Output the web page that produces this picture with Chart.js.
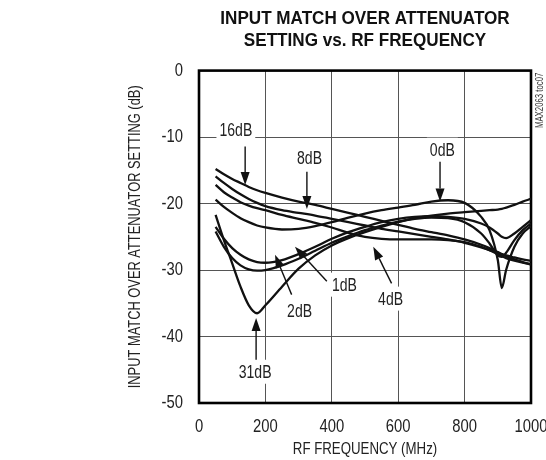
<!DOCTYPE html>
<html>
<head>
<meta charset="utf-8">
<script src="https://cdn.jsdelivr.net/npm/chart.js@4.4.1/dist/chart.umd.min.js"></script>
<style>
  html, body { margin: 0; padding: 0; background: #fff; }
  #wrap { width: 546px; height: 460px; position: relative; }
</style>
</head>
<body>
<div id="wrap"><canvas id="c" width="546" height="460"></canvas></div>
<script>
// ---- data ----
const freqMHz = [50,75,100,125,150,175,200,250,300,350,400,450,500,550,600,650,700,750,800,850,875,900,912,925,950,975,1000];
const match0dB  = [-19.4,-20.5,-21.4,-22.2,-22.8,-23.3,-23.6,-23.9,-23.8,-23.4,-22.8,-22.1,-21.5,-21.0,-20.6,-20.2,-19.7,-19.5,-19.9,-22.0,-24.0,-28.5,-32.7,-30.0,-26.5,-24.5,-23.4];
const match1dB  = [-23.5,-25.3,-26.7,-27.7,-28.4,-28.8,-28.9,-28.5,-27.6,-26.5,-25.3,-24.3,-23.5,-22.8,-22.3,-22.0,-21.9,-22.0,-22.3,-23.0,-23.6,-24.5,-25.0,-25.2,-24.5,-23.5,-22.5];
const match2dB  = [-24.2,-26.5,-28.2,-29.3,-29.9,-30.1,-30.0,-29.3,-28.3,-27.1,-25.9,-24.9,-24.0,-23.3,-22.7,-22.3,-22.1,-22.2,-22.8,-24.5,-26.0,-27.8,-28.0,-27.4,-25.5,-24.0,-23.0];
const match4dB  = [-17.2,-18.3,-19.1,-19.8,-20.3,-20.7,-21.0,-21.7,-22.3,-22.9,-23.6,-24.4,-25.0,-25.3,-25.4,-25.4,-25.4,-25.5,-25.8,-26.5,-27.0,-27.6,-27.9,-28.2,-28.6,-28.9,-29.1];
const match8dB  = [-15.9,-16.9,-17.8,-18.6,-19.3,-19.9,-20.4,-21.0,-21.4,-21.8,-22.3,-22.8,-23.3,-23.8,-24.2,-24.6,-25.0,-25.4,-25.9,-26.6,-27.0,-27.4,-27.6,-27.8,-28.1,-28.4,-28.6];
const match16dB = [-14.8,-15.6,-16.3,-16.9,-17.5,-18.0,-18.4,-19.1,-19.7,-20.2,-20.8,-21.4,-22.0,-22.6,-23.2,-23.8,-24.3,-24.8,-25.4,-26.2,-26.7,-27.3,-27.6,-27.9,-28.4,-28.8,-29.2];
const match31dB = [-21.7,-25.5,-29.0,-32.5,-35.3,-36.5,-35.3,-32.5,-29.8,-27.8,-26.3,-25.2,-24.3,-23.5,-22.8,-22.2,-21.8,-21.5,-21.3,-21.1,-21.0,-20.9,-20.8,-20.6,-20.2,-19.7,-19.3];
const seriesNames = ['0dB','1dB','2dB','4dB','8dB','16dB','31dB'];
const seriesValues = [match0dB, match1dB, match2dB, match4dB, match8dB, match16dB, match31dB];

// axis ticks
const xTicks = [0,200,400,600,800,1000];
const yTicks = [0,-10,-20,-30,-40,-50];

// annotation labels (data units) and their arrows
const noteText     = ['16dB','8dB','0dB','31dB','2dB','1dB','4dB'];
const noteFreq     = [111, 333, 733, 169, 303, 438, 577];
const noteDb       = [-9.0, -13.1, -11.9, -45.3, -36.2, -32.2, -34.3];
const arrowFromF   = [139, 325, 726, 172, 279, 385, 580];
const arrowFromDb  = [-11.4, -15.2, -13.7, -43.5, -33.7, -31.7, -32.0];
const arrowToF     = [139, 325, 726, 172, 229, 289, 525];
const arrowToDb    = [-17.2, -20.8, -19.7, -37.2, -27.7, -26.5, -26.5];

const FONT = "'Liberation Sans', Arial, sans-serif";

// condensed look: squeeze text horizontally (still drawn as real text)
(function () {
  const P = CanvasRenderingContext2D.prototype;
  const origFill = P.fillText, origMeasure = P.measureText;
  const squeeze = ctx => (/bold/.test(ctx.font) ? 0.9 : 0.78);
  P.fillText = function (t, x, y, mw) {
    const k = squeeze(this);
    this.save();
    this.translate(x, y);
    this.scale(k, 1);
    origFill.call(this, t, 0, 0);
    this.restore();
  };
  P.measureText = function (t) {
    const m = origMeasure.call(this, t);
    const k = squeeze(this);
    return {
      width: m.width * k,
      actualBoundingBoxAscent: m.actualBoundingBoxAscent,
      actualBoundingBoxDescent: m.actualBoundingBoxDescent,
      actualBoundingBoxLeft: m.actualBoundingBoxLeft * k,
      actualBoundingBoxRight: m.actualBoundingBoxRight * k
    };
  };
})();

const datasets = seriesNames.map((n, i) => ({
  label: n,
  data: freqMHz.map((f, k) => ({ x: f, y: seriesValues[i][k] })),
  borderColor: '#111',
  borderWidth: 2.3,
  pointRadius: 0,
  fill: false,
  cubicInterpolationMode: 'monotone'
}));

const frameAndNotes = {
  id: 'frameAndNotes',
  beforeDatasetsDraw(chart) {
    const { ctx, chartArea: a } = chart;
    ctx.save();
    ctx.strokeStyle = '#000';
    ctx.lineWidth = 2.6;
    ctx.strokeRect(a.left, a.top, a.right - a.left, a.bottom - a.top);
    ctx.restore();
  },
  afterDatasetsDraw(chart) {
    const { ctx } = chart;
    const xs = chart.scales.x, ys = chart.scales.y;
    ctx.save();
    ctx.font = "18px " + FONT;
    ctx.textAlign = 'center';
    ctx.textBaseline = 'middle';
    noteText.forEach((t, i) => {
      const px = xs.getPixelForValue(noteFreq[i]);
      const py = ys.getPixelForValue(noteDb[i]);
      const w = ctx.measureText(t).width;
      ctx.fillStyle = '#fff';
      ctx.fillRect(px - w / 2 - 3, py - 12, w + 6, 24);
      ctx.fillStyle = '#222';
      ctx.fillText(t, px, py + 1);
      // arrow
      const x0 = xs.getPixelForValue(arrowFromF[i]), y0 = ys.getPixelForValue(arrowFromDb[i]);
      const x1 = xs.getPixelForValue(arrowToF[i]),   y1 = ys.getPixelForValue(arrowToDb[i]);
      const ang = Math.atan2(y1 - y0, x1 - x0);
      const L = 13, H = 4.5;
      const bx = x1 - L * Math.cos(ang), by = y1 - L * Math.sin(ang);
      ctx.strokeStyle = '#111';
      ctx.lineWidth = 1.4;
      ctx.beginPath(); ctx.moveTo(x0, y0); ctx.lineTo(bx, by); ctx.stroke();
      ctx.fillStyle = '#111';
      ctx.beginPath();
      ctx.moveTo(x1, y1);
      ctx.lineTo(bx + H * Math.sin(ang), by - H * Math.cos(ang));
      ctx.lineTo(bx - H * Math.sin(ang), by + H * Math.cos(ang));
      ctx.closePath(); ctx.fill();
    });
    // part number
    const a = chart.chartArea;
    ctx.translate(a.right + 9, a.top + 2);
    ctx.rotate(-Math.PI / 2);
    ctx.font = "10px " + FONT;
    ctx.textAlign = 'right';
    ctx.fillStyle = '#333';
    ctx.fillText('MAX2063 toc07', 0, 0);
    ctx.restore();
  }
};

new Chart(document.getElementById('c'), {
  type: 'line',
  data: { datasets },
  plugins: [frameAndNotes],
  options: {
    responsive: false,
    animation: false,
    layout: { padding: { left: 0, right: 0, top: 0, bottom: 0 } },
    plugins: {
      legend: { display: false },
      tooltip: { enabled: false },
      title: {
        display: true,
        fullSize: false,
        text: ['INPUT MATCH OVER ATTENUATOR', 'SETTING vs. RF FREQUENCY'],
        color: '#111',
        font: { family: FONT, size: 19, weight: 'bold', lineHeight: 1.2 },
        padding: { top: 7, bottom: 18 }
      }
    },
    scales: {
      x: {
        type: 'linear', min: 0, max: 1000,
        afterBuildTicks: s => { s.ticks = xTicks.map(v => ({ value: v })); },
        afterFit: s => { s.height = 57; s.paddingRight = 15; s.paddingLeft = 0; },
        grid: { color: '#555', lineWidth: 1, drawTicks: false },
        border: { display: false },
        ticks: { color: '#222', padding: 12, maxRotation: 0, font: { family: FONT, size: 19 }, callback: v => String(v) },
        title: { display: true, text: 'RF FREQUENCY (MHz)', color: '#222', padding: { top: 6, bottom: 0 }, font: { family: FONT, size: 17 } }
      },
      y: {
        type: 'linear', min: -50, max: 0,
        afterBuildTicks: s => { s.ticks = yTicks.map(v => ({ value: v })); },
        afterFit: s => { s.width = 199; },
        grid: { color: '#555', lineWidth: 1, drawTicks: false },
        border: { display: false },
        ticks: { color: '#222', padding: 16, font: { family: FONT, size: 19 }, callback: v => String(v) },
        title: { display: true, text: 'INPUT MATCH OVER ATTENUATOR SETTING (dB)', color: '#222', padding: { top: 126, bottom: 0 }, font: { family: FONT, size: 16.5 } }
      }
    }
  }
});
</script>
</body>
</html>
